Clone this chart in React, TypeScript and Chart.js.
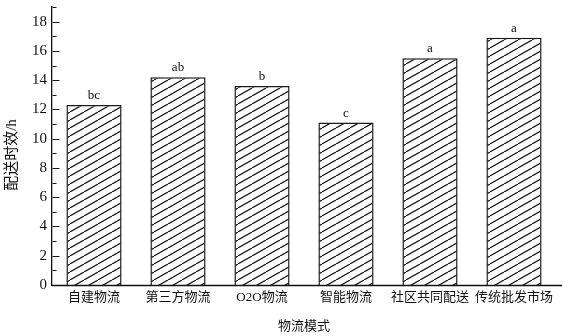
import React, { useEffect, useRef } from 'react';
import { Chart, registerables } from 'chart.js';

Chart.register(...registerables);

const categories = ['自建物流', '第三方物流', 'O2O物流', '智能物流', '社区共同配送', '传统批发市场'];
const deliveryHours = [12.3, 14.2, 13.6, 11.1, 15.5, 16.9];
const significanceLetters = ['bc', 'ab', 'b', 'c', 'a', 'a'];
const yMajorTicks = [0, 2, 4, 6, 8, 10, 12, 14, 16, 18];
const yMinorTicks = [1, 3, 5, 7, 9, 11, 13, 15, 17, 19];
const yMax = 19;
const yTitle = '配送时效/h';
const xTitle = '物流模式';

const SERIF = "'Liberation Serif', 'Times New Roman', 'Noto Sans CJK SC', serif";
const CJK = "'Liberation Serif', 'Noto Sans CJK SC', sans-serif";
const INK = '#111111';

function makeHatch(): CanvasPattern | string {
  const W = 14;
  const H = 8;
  const c = document.createElement('canvas');
  c.width = W;
  c.height = H;
  const g = c.getContext('2d');
  if (!g) return '#ffffff';
  g.fillStyle = '#ffffff';
  g.fillRect(0, 0, W, H);
  g.strokeStyle = '#151515';
  g.lineWidth = 1.2;
  for (let k = -1; k <= 1; k++) {
    g.beginPath();
    g.moveTo(k * W, H);
    g.lineTo(k * W + W, 0);
    g.stroke();
  }
  const p = g.createPattern(c, 'repeat');
  return p || '#ffffff';
}

const decorPlugin = {
  id: 'decor',
  afterDatasetsDraw(chart: any) {
    const { ctx, chartArea, scales } = chart;
    const y = scales.y;
    ctx.save();
    ctx.strokeStyle = INK;
    ctx.lineWidth = 1;
    const ax = Math.round(chartArea.left) + 0.5;
    // inward tick marks
    yMajorTicks.forEach((v) => {
      const py = Math.round(y.getPixelForValue(v)) + 0.5;
      ctx.beginPath();
      ctx.moveTo(ax, py);
      ctx.lineTo(ax + 7, py);
      ctx.stroke();
    });
    yMinorTicks.forEach((v) => {
      const py = Math.round(y.getPixelForValue(v)) + 0.5;
      ctx.beginPath();
      ctx.moveTo(ax, py);
      ctx.lineTo(ax + 4, py);
      ctx.stroke();
    });
    // x axis line
    const by = Math.round(chartArea.bottom) + 0.5;
    ctx.lineWidth = 1.3;
    ctx.beginPath();
    ctx.moveTo(ax - 0.5, by);
    ctx.lineTo(chart.width - 1, by);
    ctx.stroke();
    // significance letters
    const meta = chart.getDatasetMeta(0);
    ctx.fillStyle = INK;
    ctx.font = `13px ${SERIF}`;
    ctx.textAlign = 'center';
    ctx.textBaseline = 'alphabetic';
    meta.data.forEach((bar: any, i: number) => {
      ctx.fillText(significanceLetters[i], bar.x, bar.y - 6);
    });
    // y axis title
    ctx.save();
    ctx.translate(12, (chartArea.top + chartArea.bottom) / 2 + 9);
    ctx.rotate(-Math.PI / 2);
    ctx.font = `15px ${CJK}`;
    ctx.textAlign = 'center';
    ctx.textBaseline = 'middle';
    ctx.fillText(yTitle, 0, 0);
    ctx.restore();
    ctx.restore();
  },
};

export default function App() {
  const ref = useRef<HTMLCanvasElement | null>(null);

  useEffect(() => {
    document.body.style.margin = '0';
    const canvas = ref.current;
    if (!canvas) return;
    const hatch = makeHatch();
    const chart = new Chart(canvas, {
      type: 'bar',
      data: {
        labels: categories,
        datasets: [
          {
            data: deliveryHours,
            backgroundColor: hatch as any,
            borderColor: '#1a1a1a',
            borderWidth: 1.5,
            categoryPercentage: 1,
            barPercentage: 0.657,
          },
        ],
      },
      options: {
        responsive: false,
        animation: false,
        devicePixelRatio: 1,
        layout: { padding: { left: 0, right: 7, top: 7, bottom: 0 } },
        plugins: {
          legend: { display: false },
          tooltip: { enabled: false },
        },
        scales: {
          x: {
            grid: { display: false, drawTicks: false },
            border: { display: false },
            ticks: {
              color: INK,
              padding: 5,
              maxRotation: 0,
              autoSkip: false,
              font: { family: CJK, size: 13 },
            },
            title: {
              display: true,
              text: xTitle,
              color: INK,
              font: { family: CJK, size: 13 },
              padding: { top: 0, bottom: 2 },
            },
            afterFit(scale: any) {
              scale.height = 51;
              scale.paddingLeft = 0;
              scale.paddingRight = 0;
            },
          },
          y: {
            min: 0,
            max: yMax,
            grid: { display: false, drawTicks: false },
            border: { display: true, color: INK, width: 1.3 },
            ticks: {
              color: INK,
              padding: 5,
              font: { family: SERIF, size: 15 },
            },
            afterBuildTicks(scale: any) {
              scale.ticks = yMajorTicks.map((v) => ({ value: v }));
            },
            title: { display: false },
            afterFit(scale: any) {
              scale.width = 52;
              scale.paddingTop = 0;
              scale.paddingBottom = 0;
            },
          },
        },
      },
      plugins: [decorPlugin],
    });
    return () => chart.destroy();
  }, []);

  return (
    <div style={{ position: 'absolute', left: 0, top: 0, width: 563, height: 336, background: '#fff' }}>
      <canvas ref={ref} width={563} height={336} style={{ display: 'block', width: 563, height: 336 }} />
    </div>
  );
}
